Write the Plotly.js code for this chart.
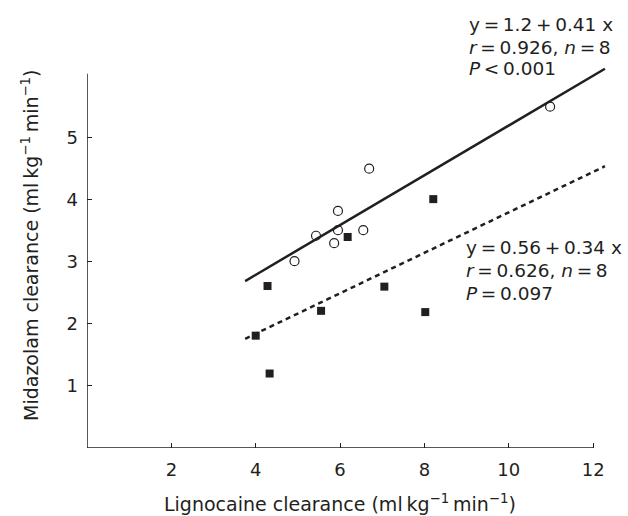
<!DOCTYPE html>
<html>
<head>
<meta charset="utf-8">
<script src="https://cdn.plot.ly/plotly-3.0.1.min.js"></script>
<style>html,body{margin:0;padding:0;background:#fff;}#chart{width:628px;height:516px;}</style>
</head>
<body>
<div id="chart"></div>
<script>
// Lignocaine clearance (x) vs Midazolam clearance (y)
var openX = [4.92, 5.43, 5.86, 5.95, 5.95, 6.55, 6.69, 10.98];
var openY = [3.01, 3.42, 3.30, 3.51, 3.82, 3.51, 4.50, 5.50];
var filledX = [4.00, 4.28, 4.33, 5.55, 6.18, 7.05, 8.02, 8.21];
var filledY = [1.81, 2.61, 1.20, 2.21, 3.40, 2.60, 2.19, 4.01];
var fitX = [3.75, 12.28];
var fitSolidY = [2.69, 6.11];
var fitDashY = [1.76, 4.54];
var xTicks = [2, 4, 6, 8, 10, 12];
var yTicks = [1, 2, 3, 4, 5];
var xTitle = 'Lignocaine clearance (ml\u2009kg<sup>\u22121</sup>\u2009min<sup>\u22121</sup>)';
var yTitle = 'Midazolam clearance (ml\u2009kg<sup>\u22121</sup>\u2009min<sup>\u22121</sup>)';
var labelsOpen = ["y\u2009=\u20091.2\u2009+\u20090.41 x", "<i>r</i>\u2009=\u20090.926, <i>n</i>\u2009=\u20098", "<i>P</i>\u2009&lt;\u20090.001"];
var labelsFilled = ["y\u2009=\u20090.56\u2009+\u20090.34 x", "<i>r</i>\u2009=\u20090.626, <i>n</i>\u2009=\u20098", "<i>P</i>\u2009=\u20090.097"];

var ink = '#231f20';
var FONT = 'DejaVu Sans, Arial, sans-serif';

var traces = [
  {x: fitX, y: fitSolidY, mode: 'lines', line: {color: ink, width: 2.5}, hoverinfo: 'skip'},
  {x: fitX, y: fitDashY, mode: 'lines', line: {color: ink, width: 2.5, dash: '5px,4px'}, hoverinfo: 'skip'},
  {x: openX, y: openY, mode: 'markers', marker: {symbol: 'circle-open', size: 9, color: ink, line: {width: 1.2, color: ink}}},
  {x: filledX, y: filledY, mode: 'markers', marker: {symbol: 'square', size: 8, color: ink}}
];

var L = 87, R = 18, T = 57, B = 68, W = 628, H = 516;
var pw = W - L - R, ph = H - T - B;
function px(v){ return (v - L) / pw; }
function py(v){ return (H - B - v) / ph; }

var ann = [];
var c1 = [25, 47, 69], c2 = [247, 270, 293];
for (var i = 0; i < 3; i++) {
  ann.push({xref: 'paper', yref: 'paper', x: px(467), y: py(c1[i]), xanchor: 'left', yanchor: 'middle', text: labelsOpen[i], showarrow: false, font: {family: FONT, size: 18.5, color: ink}});
  ann.push({xref: 'paper', yref: 'paper', x: px(464), y: py(c2[i]), xanchor: 'left', yanchor: 'middle', text: labelsFilled[i], showarrow: false, font: {family: FONT, size: 18.5, color: ink}});
}
ann.push({xref: 'paper', yref: 'paper', x: px(340), y: py(503), xanchor: 'center', yanchor: 'middle', text: xTitle, showarrow: false, font: {family: FONT, size: 19, color: ink}});
ann.push({xref: 'paper', yref: 'paper', x: px(30), y: py(245), xanchor: 'center', yanchor: 'middle', textangle: -90, text: yTitle, showarrow: false, font: {family: FONT, size: 19, color: ink}});

var layout = {
  width: W, height: H,
  margin: {l: L, r: R, t: T, b: B, pad: 0},
  paper_bgcolor: '#fff', plot_bgcolor: '#fff',
  showlegend: false,
  font: {family: FONT, size: 18, color: ink},
  xaxis: {
    range: [0, 12.4], showgrid: false, zeroline: false, showline: false,
    tickmode: 'array', tickvals: xTicks, ticktext: xTicks.map(String),
    ticks: 'inside', ticklen: 5, tickwidth: 1, tickcolor: ink,
    ticklabelstandoff: 9,
    tickfont: {family: FONT, size: 18, color: ink}
  },
  yaxis: {
    range: [0, 6.3], showgrid: false, zeroline: false, showline: false,
    tickmode: 'array', tickvals: yTicks, ticktext: yTicks.map(String),
    ticks: 'inside', ticklen: 5, tickwidth: 1, tickcolor: ink,
    ticklabelstandoff: 8,
    tickfont: {family: FONT, size: 18, color: ink}
  },
  shapes: [
    {type: 'line', xref: 'x', yref: 'y', x0: 0, x1: 12, y0: 0, y1: 0, line: {color: ink, width: 1.5}},
    {type: 'line', xref: 'x', yref: 'y', x0: 0, x1: 0, y0: 0, y1: 6.03, line: {color: ink, width: 1.5}}
  ],
  annotations: ann
};

Plotly.newPlot('chart', traces, layout, {displayModeBar: false, staticPlot: true});
</script>
</body>
</html>
